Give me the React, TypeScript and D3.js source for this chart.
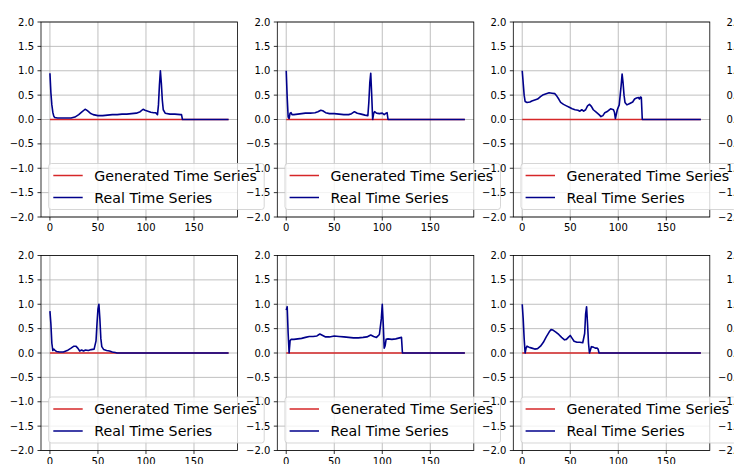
import React from "react";
import * as d3 from "d3";

// ---- data (time index, value) ----
const REAL_1: [number, number][] = [
  [0, 0.95], [1, 0.55], [2, 0.3], [3, 0.15], [4, 0.07], [5, 0.04], [8, 0.03], [15, 0.03], [22, 0.03],
  [26, 0.05], [30, 0.1], [33, 0.15], [36, 0.2], [37, 0.21], [39, 0.18], [42, 0.13], [45, 0.1], [50, 0.08],
  [55, 0.08], [60, 0.09], [65, 0.1], [70, 0.1], [75, 0.11], [80, 0.11], [85, 0.12], [90, 0.13], [94, 0.16],
  [97, 0.21], [99, 0.19], [102, 0.17], [105, 0.15], [108, 0.14], [110, 0.14], [112, 0.1], [113, 0.3],
  [114, 0.7], [115, 1.0], [116, 0.75], [117, 0.4], [118, 0.2], [120, 0.13], [125, 0.11], [130, 0.11],
  [136, 0.1], [137, 0.1], [138, 0], [186, 0],
];
const REAL_2: [number, number][] = [
  [0, 1.0], [1, 0.45], [2, 0.05], [3, 0.02], [4, 0.13], [5, 0.14], [6, 0.1], [8, 0.1], [12, 0.11], [16, 0.12],
  [20, 0.13], [25, 0.13], [30, 0.14], [33, 0.16], [36, 0.19], [38, 0.18], [41, 0.14], [45, 0.12], [50, 0.12],
  [55, 0.11], [60, 0.1], [65, 0.1], [68, 0.12], [71, 0.16], [74, 0.13], [78, 0.11], [82, 0.09], [85, 0.08],
  [86, 0.35], [87, 0.75], [88, 0.95], [89, 0.5], [90, 0], [91, 0.12], [92, 0.16], [94, 0.13], [97, 0.12],
  [100, 0.13], [102, 0.1], [104, 0.13], [105, 0.14], [106, 0], [186, 0],
];
const REAL_3: [number, number][] = [
  [0, 1.0], [1, 0.75], [2, 0.5], [3, 0.37], [5, 0.35], [8, 0.36], [10, 0.38], [13, 0.4], [16, 0.42],
  [19, 0.47], [22, 0.51], [25, 0.53], [28, 0.55], [31, 0.54], [34, 0.53], [36, 0.48], [38, 0.42], [40, 0.35],
  [43, 0.31], [46, 0.28], [49, 0.25], [52, 0.22], [55, 0.2], [58, 0.19], [60, 0.17], [62, 0.2], [64, 0.17],
  [66, 0.2], [68, 0.28], [70, 0.31], [72, 0.27], [74, 0.2], [77, 0.15], [80, 0.1], [82, 0.06], [84, 0.08],
  [86, 0.14], [89, 0.17], [92, 0.22], [95, 0.2], [96, 0.15], [97, 0.02], [99, 0.2], [101, 0.3], [103, 0.7],
  [104, 0.93], [105, 0.75], [106, 0.5], [107, 0.35], [109, 0.3], [112, 0.33], [115, 0.36], [117, 0.42],
  [119, 0.44], [121, 0.45], [122, 0.42], [123, 0.46], [124, 0.45], [125, 0], [186, 0],
];
const REAL_4: [number, number][] = [
  [0, 0.86], [1, 0.6], [2, 0.2], [3, 0.05], [4, 0.08], [5, 0.06], [7, 0.03], [10, 0.02], [14, 0.02],
  [18, 0.05], [22, 0.1], [25, 0.14], [27, 0.14], [29, 0.1], [31, 0.04], [33, 0.06], [35, 0.04], [37, 0.06],
  [40, 0.05], [43, 0.07], [46, 0.08], [48, 0.25], [49, 0.6], [50, 0.9], [51, 1.0], [52, 0.7], [53, 0.3],
  [54, 0.13], [56, 0.07], [59, 0.05], [62, 0.04], [65, 0.02], [68, 0.01], [70, 0], [186, 0],
];
const REAL_5: [number, number][] = [
  [0, 0.88], [1, 0.95], [2, 0.4], [3, 0], [4, 0.25], [5, 0.28], [8, 0.28], [12, 0.29], [16, 0.3], [20, 0.32],
  [24, 0.34], [28, 0.34], [32, 0.35], [35, 0.39], [38, 0.36], [41, 0.33], [45, 0.33], [50, 0.35], [55, 0.34],
  [60, 0.33], [65, 0.32], [70, 0.31], [75, 0.31], [80, 0.32], [84, 0.33], [88, 0.37], [91, 0.34], [94, 0.32],
  [97, 0.38], [99, 0.7], [100, 1.0], [101, 0.6], [102, 0.1], [103, 0.15], [104, 0.28], [106, 0.29],
  [110, 0.28], [114, 0.29], [118, 0.31], [120, 0.32], [121, 0], [186, 0],
];
const REAL_6: [number, number][] = [
  [0, 1.0], [1, 0.7], [2, 0.3], [3, 0], [4, 0.1], [5, 0.14], [7, 0.12], [10, 0.1], [13, 0.08], [16, 0.09],
  [19, 0.14], [22, 0.22], [25, 0.33], [28, 0.43], [30, 0.48], [32, 0.47], [35, 0.43], [38, 0.38], [41, 0.32],
  [44, 0.27], [46, 0.28], [48, 0.32], [50, 0.36], [52, 0.3], [54, 0.24], [57, 0.22], [60, 0.22], [63, 0.21],
  [65, 0.4], [66, 0.8], [67, 0.95], [68, 0.6], [69, 0.2], [70, 0], [72, 0.13], [74, 0.12], [76, 0.1],
  [78, 0.1], [79, 0.08], [80, 0], [186, 0],
];
const GENERATED: [number, number][] = [[0, 0], [186, 0]];

const REAL_SERIES = [REAL_1, REAL_2, REAL_3, REAL_4, REAL_5, REAL_6];
const X_TICKS = [0, 50, 100, 150];
const Y_TICKS = [-2, -1.5, -1, -0.5, 0, 0.5, 1, 1.5, 2];
const LEGEND_LABELS = ["Generated Time Series", "Real Time Series"];
const X_DOMAIN: [number, number] = [-9.3, 195.3];
const Y_DOMAIN: [number, number] = [-2, 2];

// ---- layout ----
const W = 734, H = 464;
const COL_LEFTS = [41, 277.3, 513.3, 749.3];
const ROW_TOPS = [22, 255.5];
const AX_W = 196.5, AX_H = 195;
const FONT = "DejaVu Sans, sans-serif";
const RED = "#d62728";
const BLUE = "#00008b";
const GRID = "#b0b0b0";

const fmt = (v: number) => d3.format(".1f")(v).replace("-", "\u2212");

function Axes({ left, top, real, showData }: { left: number; top: number; real?: [number, number][]; showData: boolean }) {
  const x = d3.scaleLinear().domain(X_DOMAIN).range([left, left + AX_W]);
  const y = d3.scaleLinear().domain(Y_DOMAIN).range([top + AX_H, top]);
  const line = d3.line<[number, number]>().x((d) => x(d[0])).y((d) => y(d[1]));
  const bottom = top + AX_H;
  const boxL = left + 7.7;
  const boxT = bottom - 7.5 - 46;
  return (
    <g>
      {showData && (
        <g>
          {X_TICKS.map((t) => (
            <line key={"gx" + t} x1={x(t)} x2={x(t)} y1={top} y2={bottom} stroke={GRID} strokeWidth={0.8} />
          ))}
          {Y_TICKS.map((t) => (
            <line key={"gy" + t} x1={left} x2={left + AX_W} y1={y(t)} y2={y(t)} stroke={GRID} strokeWidth={0.8} />
          ))}
          <path d={line(GENERATED) || ""} fill="none" stroke={RED} strokeWidth={1.5} />
          {real && <path d={line(real) || ""} fill="none" stroke={BLUE} strokeWidth={1.6} strokeLinejoin="round" />}
          <rect x={left} y={top} width={AX_W} height={AX_H} fill="none" stroke="#000" strokeWidth={0.8} />
          {X_TICKS.map((t) => (
            <g key={"xt" + t}>
              <line x1={x(t)} x2={x(t)} y1={bottom} y2={bottom + 3.5} stroke="#000" strokeWidth={0.8} />
              <text x={x(t)} y={bottom + 14.3} textAnchor="middle" fontFamily={FONT} fontSize={10} fill="#000">
                {t}
              </text>
            </g>
          ))}
        </g>
      )}
      {Y_TICKS.map((t) => (
        <g key={"yt" + t}>
          <line x1={left - 3.5} x2={left} y1={y(t)} y2={y(t)} stroke="#000" strokeWidth={0.8} />
          <text x={left - 7} y={y(t) + 3.6} textAnchor="end" fontFamily={FONT} fontSize={10} fill="#000">
            {fmt(t)}
          </text>
        </g>
      ))}
      {showData && (
        <g>
          <rect x={boxL} y={boxT} width={215.5} height={46} rx={2.8} fill="#fff" fillOpacity={0.8} stroke="#cccccc" strokeOpacity={0.8} strokeWidth={1} />
          {LEGEND_LABELS.map((lab, i) => {
            const cy = boxT + 12 + i * 22;
            return (
              <g key={lab}>
                <line x1={boxL + 4.6} x2={boxL + 34} y1={cy} y2={cy} stroke={i === 0 ? RED : BLUE} strokeWidth={1.5} />
                <text x={boxL + 45.6} y={cy + 5} fontFamily={FONT} fontSize={14.2} fill="#000">
                  {lab}
                </text>
              </g>
            );
          })}
        </g>
      )}
    </g>
  );
}

export default function App() {
  const cells: { left: number; top: number; real?: [number, number][]; showData: boolean }[] = [];
  ROW_TOPS.forEach((top, r) => {
    COL_LEFTS.forEach((left, c) => {
      cells.push({ left, top, real: c < 3 ? REAL_SERIES[r * 3 + c] : undefined, showData: c < 3 });
    });
  });
  return (
    <svg width={W} height={H} style={{ position: "absolute", left: 0, top: 0, background: "#fff" }}>
      <rect x={0} y={0} width={W} height={H} fill="#fff" />
      {cells.map((c, i) => (
        <Axes key={i} left={c.left} top={c.top} real={c.real} showData={c.showData} />
      ))}
    </svg>
  );
}
